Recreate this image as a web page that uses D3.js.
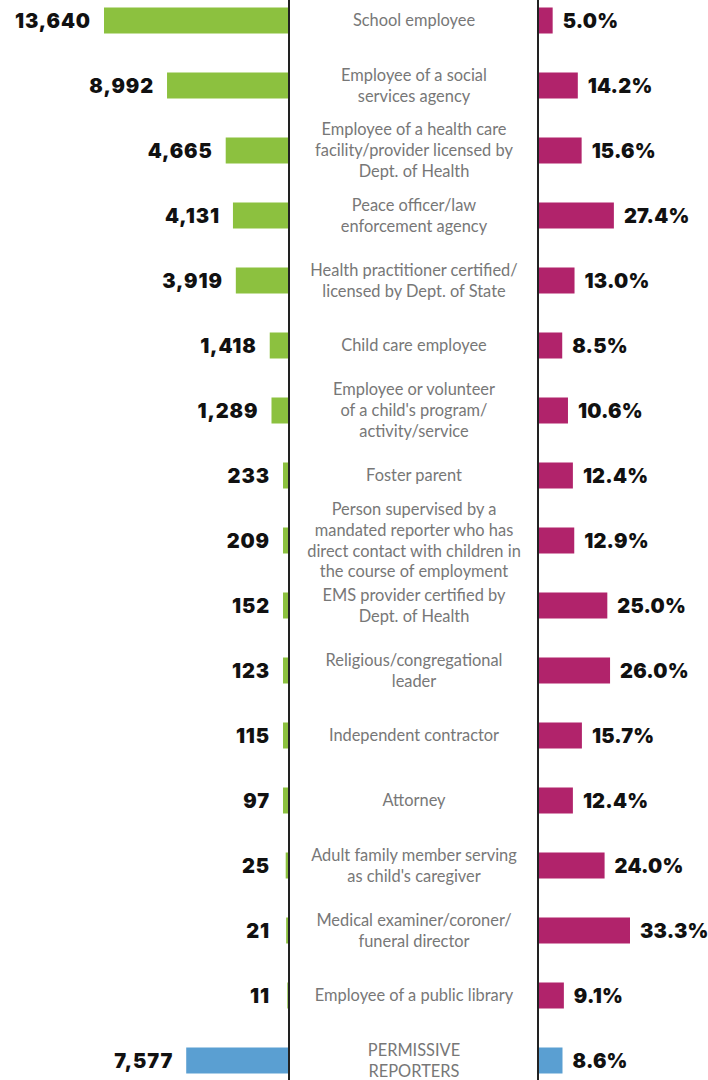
<!DOCTYPE html>
<html><head><meta charset="utf-8">
<script src="https://cdn.jsdelivr.net/npm/d3@7"></script>
<style>
html,body{margin:0;padding:0;background:#fff;}
svg{display:block;}
</style></head>
<body>
<svg id="chart" width="708" height="1080"></svg>
<script>
const categories = [
  ["School employee"],
  ["Employee of a social","services agency"],
  ["Employee of a health care","facility/provider licensed by","Dept. of Health"],
  ["Peace officer/law","enforcement agency"],
  ["Health practitioner certified/","licensed by Dept. of State"],
  ["Child care employee"],
  ["Employee or volunteer","of a child's program/","activity/service"],
  ["Foster parent"],
  ["Person supervised by a","mandated reporter who has","direct contact with children in","the course of employment"],
  ["EMS provider certified by","Dept. of Health"],
  ["Religious/congregational","leader"],
  ["Independent contractor"],
  ["Attorney"],
  ["Adult family member serving","as child's caregiver"],
  ["Medical examiner/coroner/","funeral director"],
  ["Employee of a public library"],
  ["PERMISSIVE","REPORTERS"]
];
const reports = [13640, 8992, 4665, 4131, 3919, 1418, 1289, 233, 209, 152, 123, 115, 97, 25, 21, 11, 7577];
const percents = [5.0, 14.2, 15.6, 27.4, 13.0, 8.5, 10.6, 12.4, 12.9, 25.0, 26.0, 15.7, 12.4, 24.0, 33.3, 9.1, 8.6];
const groups = ["mandated","mandated","mandated","mandated","mandated","mandated","mandated","mandated","mandated","mandated","mandated","mandated","mandated","mandated","mandated","mandated","permissive"];

const svg = d3.select("#chart");
const idx = d3.range(categories.length);

const y = d3.scaleBand().domain(idx).range([-12, 1093]).paddingInner(0.6).paddingOuter(0.3);
// left scale: linear for large counts, with small counts kept visible (as in the original graphic)
const xL = d3.scaleLinear().domain([0, 11, 25, 97, 440, 13640]).range([289, 287.3, 285.7, 283, 283, 104]);
const xR = d3.scaleLinear().domain([0, 33.3]).range([539, 630]);
const leftColor = d3.scaleOrdinal().domain(["mandated","permissive"]).range(["#8cc13f","#5a9fd2"]);
const rightColor = d3.scaleOrdinal().domain(["mandated","permissive"]).range(["#b1236b","#5a9fd2"]);

const bh = 26;
const cy = i => y(i) + y.bandwidth()/2;

// left bars
svg.append("g").selectAll("rect").data(idx).join("rect")
  .attr("x", i => xL(reports[i]))
  .attr("width", i => xL(0) - xL(reports[i]))
  .attr("y", i => cy(i) - bh/2)
  .attr("height", bh)
  .attr("fill", i => leftColor(groups[i]));

// right bars
svg.append("g").selectAll("rect").data(idx).join("rect")
  .attr("x", xR(0))
  .attr("width", i => xR(percents[i]) - xR(0))
  .attr("y", i => cy(i) - bh/2)
  .attr("height", bh)
  .attr("fill", i => rightColor(groups[i]));

// axis lines
svg.append("line").attr("x1", 289).attr("x2", 289).attr("y1", 0).attr("y2", 1080)
  .attr("stroke", "#222").attr("stroke-width", 2);
svg.append("line").attr("x1", 538).attr("x2", 538).attr("y1", 0).attr("y2", 1080)
  .attr("stroke", "#222").attr("stroke-width", 2);

const valFont = "Inter, 'DejaVu Sans', sans-serif";
const fmt = d3.format(",");

svg.append("g").selectAll("text").data(idx).join("text")
  .attr("x", i => Math.min(xL(reports[i]), 283) - 13)
  .attr("y", i => cy(i))
  .attr("dy", "0.36em")
  .attr("text-anchor", "end")
  .style("font-family", valFont)
  .style("font-weight", 900)
  .style("font-size", "20px")
  .style("letter-spacing", "0.9px")
  .attr("fill", "#111")
  .text(i => fmt(reports[i]));

svg.append("g").selectAll("text").data(idx).join("text")
  .attr("x", i => xR(percents[i]) + 10)
  .attr("y", i => cy(i))
  .attr("dy", "0.36em")
  .attr("text-anchor", "start")
  .style("font-family", valFont)
  .style("font-weight", 900)
  .style("font-size", "20px")
  .style("letter-spacing", "0.2px")
  .attr("fill", "#111")
  .text(i => d3.format(".1f")(percents[i]) + "%");

// center labels
const lh = 20.8;
const lab = svg.append("g").selectAll("text").data(idx).join("text")
  .attr("x", 414)
  .attr("y", i => cy(i) - (categories[i].length - 1) * lh / 2)
  .attr("text-anchor", "middle")
  .style("font-family", "Lato, sans-serif")
  .style("font-size", "16.4px")
  .attr("fill", "#777");
lab.each(function(i){
  const t = d3.select(this);
  categories[i].forEach((line, k) => {
    t.append("tspan").attr("x", 414).attr("dy", k === 0 ? "0.35em" : lh).text(line);
  });
});
</script>
</body></html>
